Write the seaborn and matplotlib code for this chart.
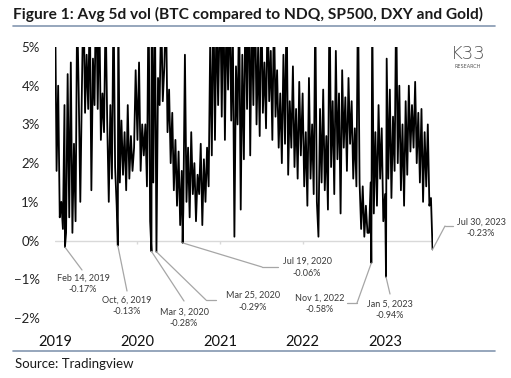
import pandas as pd
import matplotlib.pyplot as plt
import matplotlib.ticker as mticker
import seaborn as sns
from matplotlib.lines import Line2D

sns.set_style('white')
plt.rcParams['font.family'] = ['Lato', 'DejaVu Sans']

# weekly avg 5d vol spread (%), one list per year
vol_2019 = [6.5, 1.8, 4.0, 0.6, 1.0, 0.3, 3.5, 0.2, 4.3, 0.6,
            4.6, 0.2, 2.5, 0.5, 6.0, 3.8, 1.0, 3.9, 6.5, 3.3,
            4.8, 3.4, 6.2, 1.3, 4.7, 3.5, 6.8, 3.4, 6.1, 2.6,
            3.8, 2.8, 6.0, 3.1, 1.0, 3.5, 1.6, 6.3, 1.9, 0.9,
            6.0, 1.5, 3.1, 1.7, 2.8, 1.3, 3.5, 1.6, 2.7, 1.8,
            2.4, 4.4]
vol_2020 = [2.6, 4.6, 1.8, 3.0, 2.2, 3.0, 1.4, 6.5, 0.5, 7.0,
            1.5, 6.5, 0.2, 4.2, 3.5, 6.0, 3.6, 4.5, 6.2, 2.8,
            3.9, 2.0, 3.3, 1.3, 2.6, 0.9, 2.3, 0.4, 1.8, 0.8,
            4.8, 1.0, 2.4, 0.6, 2.8, 1.2, 2.0, 0.5, 1.7, 1.2,
            2.5, 0.4, 2.1, 1.0, 2.4, 1.4, 5.2, 2.2, 6.5, 2.6,
            6.0, 3.5]
vol_2021 = [6.5, 3.2, 6.8, 2.6, 6.0, 3.9, 6.5, 3.1, 5.5, 0.1,
            4.5, 3.0, 6.2, 0.8, 4.8, 2.1, 6.4, 3.4, 7.0, 2.2,
            6.0, 3.5, 6.8, 3.0, 5.0, 2.7, 6.5, 3.3, 4.6, 2.9,
            6.2, 3.6, 4.9, 2.6, 6.0, 3.2, 4.4, 2.4, 3.8, 2.0,
            4.8, 2.5, 6.3, 1.7, 3.6, 2.4, 4.5, 1.9, 3.4, 1.6,
            4.1, 2.2]
vol_2022 = [3.8, 1.4, 2.8, 0.9, 4.2, 1.6, 3.0, 1.2, 6.0, 1.0,
            0.1, 3.4, 1.5, 3.9, 1.3, 2.7, 0.8, 6.5, 1.9, 3.6,
            1.2, 4.9, 2.1, 3.8, 0.7, 4.4, 2.4, 3.7, 1.8, 4.2,
            2.5, 3.6, 1.6, 2.9, 1.4, 6.4, 1.5, 0.3, 1.4, 0.1,
            0.9, 0.2, 0.2, 1.5, 6.0, 0.7, 2.8, 0.9, 3.5, 1.6,
            2.9, 0.5]
vol_2023 = [1.2, 4.7, 1.6, 3.9, 1.1, 3.2, 1.8, 6.2, 2.0, 4.0,
            1.3, 3.0, 0.9, 3.6, 1.7, 4.0, 2.3, 3.5, 2.4, 4.1,
            2.0, 3.3, 1.5, 3.4, 1.0, 2.8, 1.4, 3.0, 0.9, 1.1,
            -0.23]
years = [2019, 2020, 2021, 2022, 2023]

# labelled lows
low_dates = ['2019-02-14', '2019-10-06', '2020-03-03', '2020-03-25',
             '2020-07-19', '2022-11-01', '2023-01-05', '2023-07-30']
low_names = ['Feb 14, 2019', 'Oct, 6, 2019', 'Mar 3, 2020', 'Mar 25, 2020',
             'Jul 19, 2020', 'Nov 1, 2022', 'Jan 5, 2023', 'Jul 30, 2023']
low_vals = [-0.17, -0.13, -0.28, -0.29, -0.06, -0.58, -0.94, -0.23]

frames = []
for yr, vals in zip(years, [vol_2019, vol_2020, vol_2021, vol_2022, vol_2023]):
    d = pd.date_range(f'{yr}-01-01', periods=len(vals), freq='7D')
    frames.append(pd.DataFrame({'date': d, 'vol': vals}))
lows = pd.DataFrame({'date': pd.to_datetime(low_dates), 'vol': low_vals})
df = pd.concat(frames + [lows]).drop_duplicates('date', keep='last')
df = df.sort_values('date').reset_index(drop=True)

W, H = 511, 378
fig = plt.figure(figsize=(W / 100, H / 100), dpi=100)
ax = fig.add_axes([55 / W, 1 - 318 / H, (433 - 55) / W, (318 - 47) / H])

def px(x, y):
    # pixel position in the picture -> figure fraction
    return (x / W, 1 - y / H)

sns.lineplot(data=df, x='date', y='vol', color='black', lw=1.3, ax=ax)

ax.set_xlim(pd.Timestamp('2019-01-01'), pd.Timestamp('2023-08-01'))
ax.set_ylim(-2, 5)
ax.axhline(0, color='#d9d9d9', lw=1, zorder=0)
year_starts = pd.to_datetime([f'{y}-01-01' for y in years])
ax.vlines(year_starts[1:], -0.1, 0, color='#d9d9d9', lw=1, zorder=0)

ax.set_xticks(year_starts)
ax.set_xticklabels([str(y) for y in years])
ax.yaxis.set_major_locator(mticker.MultipleLocator(1))
ax.yaxis.set_major_formatter(mticker.PercentFormatter(xmax=100, decimals=0))
ax.tick_params(axis='x', length=0, pad=12, labelsize=10.5, labelcolor='#111111')
ax.tick_params(axis='y', length=0, pad=11, labelsize=9.5, labelcolor='#222222')
ax.set_xlabel('')
ax.set_ylabel('')
for s in ax.spines.values():
    s.set_visible(False)

# annotations: anchor -> elbow(s) -> text
lead = '#a6a6a6'
txtc = '#3a3a3a'
layout = [
    # elbow points (pixels), text centre (pixels)
    ([(82, 270)], (83, 278)),
    ([(127, 291)], (127, 300)),
    ([(184, 301)], (184, 312)),
    ([(206, 300), (216, 300)], (253, 295)),
    ([(262, 267), (278, 267)], (307, 261)),
    ([(357, 303), (347, 303)], (320, 298)),
    ([(390, 294)], (390, 304)),
    ([(445, 226), (453, 226)], (481, 222)),
]
for (elbows, tpos), d, name, v in zip(layout, low_dates, low_names, low_vals):
    ax.annotate('', xy=(pd.Timestamp(d), v), xytext=px(*elbows[0]),
                textcoords='figure fraction',
                arrowprops=dict(arrowstyle='-', color=lead, lw=0.9,
                                shrinkA=0, shrinkB=0))
    if len(elbows) > 1:
        (x1, y1), (x2, y2) = elbows
        fig.add_artist(Line2D([x1 / W, x2 / W], [1 - y1 / H, 1 - y2 / H],
                              color=lead, lw=0.9, transform=fig.transFigure))
    fig.text(*px(*tpos), name, ha='center', va='center', fontsize=6.5, color=txtc)
    fig.text(*px(tpos[0], tpos[1] + 12), f'{v:.2f}%', ha='center', va='center',
             fontsize=6.5, color=txtc)

# title, rules, logo, source
fig.text(*px(13, 14), 'Figure 1: Avg 5d vol (BTC compared to NDQ, SP500, DXY and Gold)',
         ha='left', va='center', fontsize=11.2, fontweight='bold', color='#1a1a1a')
rule = '#8497b0'
fig.add_artist(Line2D([13 / W, 495 / W], [1 - 26 / H] * 2, color=rule, lw=1.2,
                      transform=fig.transFigure))
fig.add_artist(Line2D([13 / W, 495 / W], [1 - 351 / H] * 2, color=rule, lw=1.2,
                      transform=fig.transFigure))
fig.text(*px(468, 54), 'K33', ha='center', va='center', fontsize=13,
         fontweight='light', color='#555555', fontfamily='DejaVu Sans')
fig.text(*px(468, 66), 'RESEARCH', ha='center', va='center', fontsize=3.5,
         color='#555555', fontfamily='DejaVu Sans')
fig.text(*px(15, 364), 'Source: Tradingview', ha='left', va='center',
         fontsize=9.5, color='#1a1a1a')

fig.savefig('out.png', dpi=100)
